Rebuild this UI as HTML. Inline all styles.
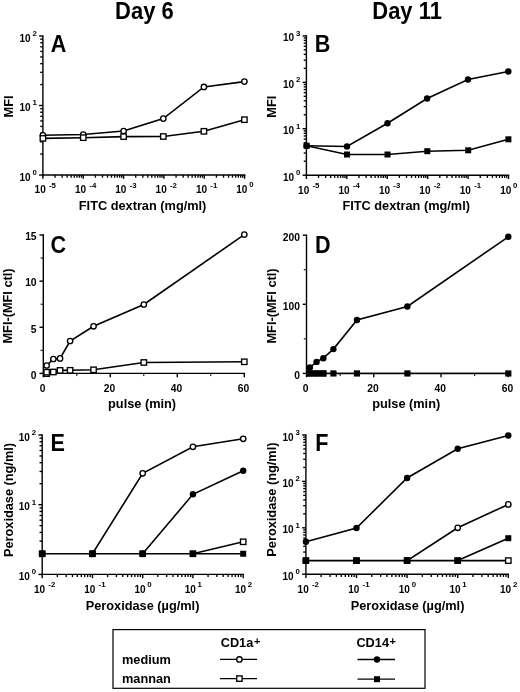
<!DOCTYPE html>
<html><head><meta charset="utf-8"><style>
html,body{margin:0;padding:0;background:#fff;width:520px;height:692px;overflow:hidden}
svg{display:block;filter:blur(0.35px)}
text{font-family:"Liberation Sans",sans-serif;font-weight:bold;fill:#000;stroke:none}
</style></head><body>
<svg width="520" height="692" viewBox="0 0 520 692">
<text transform="translate(144.4,19.2) scale(0.955,1)" font-size="23" text-anchor="middle">Day 6</text>
<text transform="translate(407.1,19.4) scale(0.955,1)" font-size="23" text-anchor="middle">Day 11</text>
<g stroke="#000">
<line x1="42.2" y1="175" x2="245.3" y2="175" stroke-width="1.4"/>
<line x1="42.9" y1="175" x2="42.9" y2="178.8" stroke-width="1.4"/>
<text x="34.6" y="193.4" font-size="10">10</text>
<text x="49" y="187.9" font-size="7.8">-5</text>
<line x1="55.04" y1="175" x2="55.04" y2="177.7" stroke-width="1.35"/>
<line x1="62.15" y1="175" x2="62.15" y2="177.7" stroke-width="1.35"/>
<line x1="67.19" y1="175" x2="67.19" y2="177.7" stroke-width="1.35"/>
<line x1="71.1" y1="175" x2="71.1" y2="177.7" stroke-width="1.35"/>
<line x1="74.29" y1="175" x2="74.29" y2="177.7" stroke-width="1.35"/>
<line x1="76.99" y1="175" x2="76.99" y2="177.7" stroke-width="1.35"/>
<line x1="79.33" y1="175" x2="79.33" y2="177.7" stroke-width="1.35"/>
<line x1="81.39" y1="175" x2="81.39" y2="177.7" stroke-width="1.35"/>
<line x1="83.24" y1="175" x2="83.24" y2="178.8" stroke-width="1.4"/>
<text x="74.94" y="193.4" font-size="10">10</text>
<text x="89.34" y="187.9" font-size="7.8">-4</text>
<line x1="95.38" y1="175" x2="95.38" y2="177.7" stroke-width="1.35"/>
<line x1="102.49" y1="175" x2="102.49" y2="177.7" stroke-width="1.35"/>
<line x1="107.53" y1="175" x2="107.53" y2="177.7" stroke-width="1.35"/>
<line x1="111.44" y1="175" x2="111.44" y2="177.7" stroke-width="1.35"/>
<line x1="114.63" y1="175" x2="114.63" y2="177.7" stroke-width="1.35"/>
<line x1="117.33" y1="175" x2="117.33" y2="177.7" stroke-width="1.35"/>
<line x1="119.67" y1="175" x2="119.67" y2="177.7" stroke-width="1.35"/>
<line x1="121.73" y1="175" x2="121.73" y2="177.7" stroke-width="1.35"/>
<line x1="123.58" y1="175" x2="123.58" y2="178.8" stroke-width="1.4"/>
<text x="115.28" y="193.4" font-size="10">10</text>
<text x="129.68" y="187.9" font-size="7.8">-3</text>
<line x1="135.72" y1="175" x2="135.72" y2="177.7" stroke-width="1.35"/>
<line x1="142.83" y1="175" x2="142.83" y2="177.7" stroke-width="1.35"/>
<line x1="147.87" y1="175" x2="147.87" y2="177.7" stroke-width="1.35"/>
<line x1="151.78" y1="175" x2="151.78" y2="177.7" stroke-width="1.35"/>
<line x1="154.97" y1="175" x2="154.97" y2="177.7" stroke-width="1.35"/>
<line x1="157.67" y1="175" x2="157.67" y2="177.7" stroke-width="1.35"/>
<line x1="160.01" y1="175" x2="160.01" y2="177.7" stroke-width="1.35"/>
<line x1="162.07" y1="175" x2="162.07" y2="177.7" stroke-width="1.35"/>
<line x1="163.92" y1="175" x2="163.92" y2="178.8" stroke-width="1.4"/>
<text x="155.62" y="193.4" font-size="10">10</text>
<text x="170.02" y="187.9" font-size="7.8">-2</text>
<line x1="176.06" y1="175" x2="176.06" y2="177.7" stroke-width="1.35"/>
<line x1="183.17" y1="175" x2="183.17" y2="177.7" stroke-width="1.35"/>
<line x1="188.21" y1="175" x2="188.21" y2="177.7" stroke-width="1.35"/>
<line x1="192.12" y1="175" x2="192.12" y2="177.7" stroke-width="1.35"/>
<line x1="195.31" y1="175" x2="195.31" y2="177.7" stroke-width="1.35"/>
<line x1="198.01" y1="175" x2="198.01" y2="177.7" stroke-width="1.35"/>
<line x1="200.35" y1="175" x2="200.35" y2="177.7" stroke-width="1.35"/>
<line x1="202.41" y1="175" x2="202.41" y2="177.7" stroke-width="1.35"/>
<line x1="204.26" y1="175" x2="204.26" y2="178.8" stroke-width="1.4"/>
<text x="195.96" y="193.4" font-size="10">10</text>
<text x="210.36" y="187.9" font-size="7.8">-1</text>
<line x1="216.4" y1="175" x2="216.4" y2="177.7" stroke-width="1.35"/>
<line x1="223.51" y1="175" x2="223.51" y2="177.7" stroke-width="1.35"/>
<line x1="228.55" y1="175" x2="228.55" y2="177.7" stroke-width="1.35"/>
<line x1="232.46" y1="175" x2="232.46" y2="177.7" stroke-width="1.35"/>
<line x1="235.65" y1="175" x2="235.65" y2="177.7" stroke-width="1.35"/>
<line x1="238.35" y1="175" x2="238.35" y2="177.7" stroke-width="1.35"/>
<line x1="240.69" y1="175" x2="240.69" y2="177.7" stroke-width="1.35"/>
<line x1="242.75" y1="175" x2="242.75" y2="177.7" stroke-width="1.35"/>
<line x1="244.6" y1="175" x2="244.6" y2="178.8" stroke-width="1.4"/>
<text x="236.3" y="193.4" font-size="10">10</text>
<text x="249.2" y="187.4" font-size="7.8">0</text>
<line x1="42.9" y1="175.7" x2="42.9" y2="35.3" stroke-width="1.4"/>
<line x1="42.9" y1="175" x2="39.1" y2="175" stroke-width="1.4"/>
<text x="30.5" y="180.5" font-size="10" text-anchor="end">10</text>
<text x="32.5" y="174.8" font-size="7.8">0</text>
<line x1="42.9" y1="154.08" x2="40.2" y2="154.08" stroke-width="1.35"/>
<line x1="42.9" y1="141.84" x2="40.2" y2="141.84" stroke-width="1.35"/>
<line x1="42.9" y1="133.16" x2="40.2" y2="133.16" stroke-width="1.35"/>
<line x1="42.9" y1="126.42" x2="40.2" y2="126.42" stroke-width="1.35"/>
<line x1="42.9" y1="120.92" x2="40.2" y2="120.92" stroke-width="1.35"/>
<line x1="42.9" y1="116.27" x2="40.2" y2="116.27" stroke-width="1.35"/>
<line x1="42.9" y1="112.24" x2="40.2" y2="112.24" stroke-width="1.35"/>
<line x1="42.9" y1="108.68" x2="40.2" y2="108.68" stroke-width="1.35"/>
<line x1="42.9" y1="105.5" x2="39.1" y2="105.5" stroke-width="1.4"/>
<text x="30.5" y="111" font-size="10" text-anchor="end">10</text>
<text x="32.5" y="105.3" font-size="7.8">1</text>
<line x1="42.9" y1="84.58" x2="40.2" y2="84.58" stroke-width="1.35"/>
<line x1="42.9" y1="72.34" x2="40.2" y2="72.34" stroke-width="1.35"/>
<line x1="42.9" y1="63.66" x2="40.2" y2="63.66" stroke-width="1.35"/>
<line x1="42.9" y1="56.92" x2="40.2" y2="56.92" stroke-width="1.35"/>
<line x1="42.9" y1="51.42" x2="40.2" y2="51.42" stroke-width="1.35"/>
<line x1="42.9" y1="46.77" x2="40.2" y2="46.77" stroke-width="1.35"/>
<line x1="42.9" y1="42.74" x2="40.2" y2="42.74" stroke-width="1.35"/>
<line x1="42.9" y1="39.18" x2="40.2" y2="39.18" stroke-width="1.35"/>
<line x1="42.9" y1="36" x2="39.1" y2="36" stroke-width="1.4"/>
<text x="30.5" y="41.5" font-size="10" text-anchor="end">10</text>
<text x="32.5" y="35.8" font-size="7.8">2</text>
</g>
<text transform="translate(50.7,51.9) scale(0.92,1)" x="0" y="0" font-size="23.5">A</text>
<text x="142.6" y="209.6" font-size="12.75" text-anchor="middle" >FITC dextran (mg/ml)</text>
<text transform="translate(12.5,106.5) rotate(-90)" font-size="12.75" text-anchor="middle">MFI</text>
<g stroke="#000">
<polyline fill="none" stroke-width="1.6" points="42.9,135.3 83.25,134.5 123.6,131 163.3,118.6 203.9,86.9 244.4,81.6"/>
<circle cx="42.9" cy="135.3" r="2.7" fill="#fff" stroke-width="1.35"/>
<circle cx="83.25" cy="134.5" r="2.7" fill="#fff" stroke-width="1.35"/>
<circle cx="123.6" cy="131" r="2.7" fill="#fff" stroke-width="1.35"/>
<circle cx="163.3" cy="118.6" r="2.7" fill="#fff" stroke-width="1.35"/>
<circle cx="203.9" cy="86.9" r="2.7" fill="#fff" stroke-width="1.35"/>
<circle cx="244.4" cy="81.6" r="2.7" fill="#fff" stroke-width="1.35"/>
<polyline fill="none" stroke-width="1.6" points="42.9,138.4 83.25,137.7 123.6,136.6 163.3,136.5 203.9,131.3 244.4,119.7"/>
<rect x="40.2" y="135.7" width="5.4" height="5.4" fill="#fff" stroke-width="1.35"/>
<rect x="80.55" y="135" width="5.4" height="5.4" fill="#fff" stroke-width="1.35"/>
<rect x="120.9" y="133.9" width="5.4" height="5.4" fill="#fff" stroke-width="1.35"/>
<rect x="160.6" y="133.8" width="5.4" height="5.4" fill="#fff" stroke-width="1.35"/>
<rect x="201.2" y="128.6" width="5.4" height="5.4" fill="#fff" stroke-width="1.35"/>
<rect x="241.7" y="117" width="5.4" height="5.4" fill="#fff" stroke-width="1.35"/>
</g>
<g stroke="#000">
<line x1="305.7" y1="175.2" x2="509.2" y2="175.2" stroke-width="1.4"/>
<line x1="306.4" y1="175.2" x2="306.4" y2="179" stroke-width="1.4"/>
<text x="298.1" y="193.6" font-size="10">10</text>
<text x="312.5" y="188.1" font-size="7.8">-5</text>
<line x1="318.57" y1="175.2" x2="318.57" y2="177.9" stroke-width="1.35"/>
<line x1="325.69" y1="175.2" x2="325.69" y2="177.9" stroke-width="1.35"/>
<line x1="330.74" y1="175.2" x2="330.74" y2="177.9" stroke-width="1.35"/>
<line x1="334.65" y1="175.2" x2="334.65" y2="177.9" stroke-width="1.35"/>
<line x1="337.85" y1="175.2" x2="337.85" y2="177.9" stroke-width="1.35"/>
<line x1="340.56" y1="175.2" x2="340.56" y2="177.9" stroke-width="1.35"/>
<line x1="342.9" y1="175.2" x2="342.9" y2="177.9" stroke-width="1.35"/>
<line x1="344.97" y1="175.2" x2="344.97" y2="177.9" stroke-width="1.35"/>
<line x1="346.82" y1="175.2" x2="346.82" y2="179" stroke-width="1.4"/>
<text x="338.52" y="193.6" font-size="10">10</text>
<text x="352.92" y="188.1" font-size="7.8">-4</text>
<line x1="358.99" y1="175.2" x2="358.99" y2="177.9" stroke-width="1.35"/>
<line x1="366.11" y1="175.2" x2="366.11" y2="177.9" stroke-width="1.35"/>
<line x1="371.16" y1="175.2" x2="371.16" y2="177.9" stroke-width="1.35"/>
<line x1="375.07" y1="175.2" x2="375.07" y2="177.9" stroke-width="1.35"/>
<line x1="378.27" y1="175.2" x2="378.27" y2="177.9" stroke-width="1.35"/>
<line x1="380.98" y1="175.2" x2="380.98" y2="177.9" stroke-width="1.35"/>
<line x1="383.32" y1="175.2" x2="383.32" y2="177.9" stroke-width="1.35"/>
<line x1="385.39" y1="175.2" x2="385.39" y2="177.9" stroke-width="1.35"/>
<line x1="387.24" y1="175.2" x2="387.24" y2="179" stroke-width="1.4"/>
<text x="378.94" y="193.6" font-size="10">10</text>
<text x="393.34" y="188.1" font-size="7.8">-3</text>
<line x1="399.41" y1="175.2" x2="399.41" y2="177.9" stroke-width="1.35"/>
<line x1="406.53" y1="175.2" x2="406.53" y2="177.9" stroke-width="1.35"/>
<line x1="411.58" y1="175.2" x2="411.58" y2="177.9" stroke-width="1.35"/>
<line x1="415.49" y1="175.2" x2="415.49" y2="177.9" stroke-width="1.35"/>
<line x1="418.69" y1="175.2" x2="418.69" y2="177.9" stroke-width="1.35"/>
<line x1="421.4" y1="175.2" x2="421.4" y2="177.9" stroke-width="1.35"/>
<line x1="423.74" y1="175.2" x2="423.74" y2="177.9" stroke-width="1.35"/>
<line x1="425.81" y1="175.2" x2="425.81" y2="177.9" stroke-width="1.35"/>
<line x1="427.66" y1="175.2" x2="427.66" y2="179" stroke-width="1.4"/>
<text x="419.36" y="193.6" font-size="10">10</text>
<text x="433.76" y="188.1" font-size="7.8">-2</text>
<line x1="439.83" y1="175.2" x2="439.83" y2="177.9" stroke-width="1.35"/>
<line x1="446.95" y1="175.2" x2="446.95" y2="177.9" stroke-width="1.35"/>
<line x1="452" y1="175.2" x2="452" y2="177.9" stroke-width="1.35"/>
<line x1="455.91" y1="175.2" x2="455.91" y2="177.9" stroke-width="1.35"/>
<line x1="459.11" y1="175.2" x2="459.11" y2="177.9" stroke-width="1.35"/>
<line x1="461.82" y1="175.2" x2="461.82" y2="177.9" stroke-width="1.35"/>
<line x1="464.16" y1="175.2" x2="464.16" y2="177.9" stroke-width="1.35"/>
<line x1="466.23" y1="175.2" x2="466.23" y2="177.9" stroke-width="1.35"/>
<line x1="468.08" y1="175.2" x2="468.08" y2="179" stroke-width="1.4"/>
<text x="459.78" y="193.6" font-size="10">10</text>
<text x="474.18" y="188.1" font-size="7.8">-1</text>
<line x1="480.25" y1="175.2" x2="480.25" y2="177.9" stroke-width="1.35"/>
<line x1="487.37" y1="175.2" x2="487.37" y2="177.9" stroke-width="1.35"/>
<line x1="492.42" y1="175.2" x2="492.42" y2="177.9" stroke-width="1.35"/>
<line x1="496.33" y1="175.2" x2="496.33" y2="177.9" stroke-width="1.35"/>
<line x1="499.53" y1="175.2" x2="499.53" y2="177.9" stroke-width="1.35"/>
<line x1="502.24" y1="175.2" x2="502.24" y2="177.9" stroke-width="1.35"/>
<line x1="504.58" y1="175.2" x2="504.58" y2="177.9" stroke-width="1.35"/>
<line x1="506.65" y1="175.2" x2="506.65" y2="177.9" stroke-width="1.35"/>
<line x1="508.5" y1="175.2" x2="508.5" y2="179" stroke-width="1.4"/>
<text x="500.2" y="193.6" font-size="10">10</text>
<text x="513.1" y="187.6" font-size="7.8">0</text>
<line x1="306.4" y1="175.9" x2="306.4" y2="35.2" stroke-width="1.4"/>
<line x1="306.4" y1="175.2" x2="302.6" y2="175.2" stroke-width="1.4"/>
<text x="294" y="180.7" font-size="10" text-anchor="end">10</text>
<text x="296" y="175" font-size="7.8">0</text>
<line x1="306.4" y1="161.22" x2="303.7" y2="161.22" stroke-width="1.35"/>
<line x1="306.4" y1="153.05" x2="303.7" y2="153.05" stroke-width="1.35"/>
<line x1="306.4" y1="147.24" x2="303.7" y2="147.24" stroke-width="1.35"/>
<line x1="306.4" y1="142.74" x2="303.7" y2="142.74" stroke-width="1.35"/>
<line x1="306.4" y1="139.07" x2="303.7" y2="139.07" stroke-width="1.35"/>
<line x1="306.4" y1="135.96" x2="303.7" y2="135.96" stroke-width="1.35"/>
<line x1="306.4" y1="133.27" x2="303.7" y2="133.27" stroke-width="1.35"/>
<line x1="306.4" y1="130.89" x2="303.7" y2="130.89" stroke-width="1.35"/>
<line x1="306.4" y1="128.77" x2="302.6" y2="128.77" stroke-width="1.4"/>
<text x="294" y="134.27" font-size="10" text-anchor="end">10</text>
<text x="296" y="128.57" font-size="7.8">1</text>
<line x1="306.4" y1="114.79" x2="303.7" y2="114.79" stroke-width="1.35"/>
<line x1="306.4" y1="106.61" x2="303.7" y2="106.61" stroke-width="1.35"/>
<line x1="306.4" y1="100.81" x2="303.7" y2="100.81" stroke-width="1.35"/>
<line x1="306.4" y1="96.31" x2="303.7" y2="96.31" stroke-width="1.35"/>
<line x1="306.4" y1="92.63" x2="303.7" y2="92.63" stroke-width="1.35"/>
<line x1="306.4" y1="89.53" x2="303.7" y2="89.53" stroke-width="1.35"/>
<line x1="306.4" y1="86.83" x2="303.7" y2="86.83" stroke-width="1.35"/>
<line x1="306.4" y1="84.46" x2="303.7" y2="84.46" stroke-width="1.35"/>
<line x1="306.4" y1="82.33" x2="302.6" y2="82.33" stroke-width="1.4"/>
<text x="294" y="87.83" font-size="10" text-anchor="end">10</text>
<text x="296" y="82.13" font-size="7.8">2</text>
<line x1="306.4" y1="68.36" x2="303.7" y2="68.36" stroke-width="1.35"/>
<line x1="306.4" y1="60.18" x2="303.7" y2="60.18" stroke-width="1.35"/>
<line x1="306.4" y1="54.38" x2="303.7" y2="54.38" stroke-width="1.35"/>
<line x1="306.4" y1="49.88" x2="303.7" y2="49.88" stroke-width="1.35"/>
<line x1="306.4" y1="46.2" x2="303.7" y2="46.2" stroke-width="1.35"/>
<line x1="306.4" y1="43.09" x2="303.7" y2="43.09" stroke-width="1.35"/>
<line x1="306.4" y1="40.4" x2="303.7" y2="40.4" stroke-width="1.35"/>
<line x1="306.4" y1="38.02" x2="303.7" y2="38.02" stroke-width="1.35"/>
<line x1="306.4" y1="35.9" x2="302.6" y2="35.9" stroke-width="1.4"/>
<text x="294" y="41.4" font-size="10" text-anchor="end">10</text>
<text x="296" y="35.7" font-size="7.8">3</text>
</g>
<text transform="translate(314.8,51.9) scale(0.92,1)" x="0" y="0" font-size="23.5">B</text>
<text x="406.2" y="209.6" font-size="12.75" text-anchor="middle" >FITC dextran (mg/ml)</text>
<text transform="translate(276,106.7) rotate(-90)" font-size="12.75" text-anchor="middle">MFI</text>
<g stroke="#000">
<polyline fill="none" stroke-width="1.6" points="306.6,145.75 347,146.5 387.5,123.25 427.1,98.5 468,79.5 508.3,71.5"/>
<circle cx="306.6" cy="145.75" r="3.2" fill="#000" stroke="none"/>
<circle cx="347" cy="146.5" r="3.2" fill="#000" stroke="none"/>
<circle cx="387.5" cy="123.25" r="3.2" fill="#000" stroke="none"/>
<circle cx="427.1" cy="98.5" r="3.2" fill="#000" stroke="none"/>
<circle cx="468" cy="79.5" r="3.2" fill="#000" stroke="none"/>
<circle cx="508.3" cy="71.5" r="3.2" fill="#000" stroke="none"/>
<polyline fill="none" stroke-width="1.6" points="306.6,145.75 347,154.5 387.5,154.5 427.3,151.2 468.2,150.3 508.4,139.3"/>
<rect x="303.6" y="142.75" width="6.0" height="6.0" fill="#000" stroke="none"/>
<rect x="344" y="151.5" width="6.0" height="6.0" fill="#000" stroke="none"/>
<rect x="384.5" y="151.5" width="6.0" height="6.0" fill="#000" stroke="none"/>
<rect x="424.3" y="148.2" width="6.0" height="6.0" fill="#000" stroke="none"/>
<rect x="465.2" y="147.3" width="6.0" height="6.0" fill="#000" stroke="none"/>
<rect x="505.4" y="136.3" width="6.0" height="6.0" fill="#000" stroke="none"/>
</g>
<g stroke="#000">
<line x1="42.6" y1="373.4" x2="245" y2="373.4" stroke-width="1.4"/>
<line x1="43.3" y1="373.4" x2="43.3" y2="377.2" stroke-width="1.4"/>
<text x="42.5" y="392.4" font-size="10.3" text-anchor="middle" >0</text>
<line x1="110.3" y1="373.4" x2="110.3" y2="377.2" stroke-width="1.4"/>
<text x="109.5" y="392.4" font-size="10.3" text-anchor="middle" >20</text>
<line x1="177.3" y1="373.4" x2="177.3" y2="377.2" stroke-width="1.4"/>
<text x="176.5" y="392.4" font-size="10.3" text-anchor="middle" >40</text>
<line x1="244.3" y1="373.4" x2="244.3" y2="377.2" stroke-width="1.4"/>
<text x="243.5" y="392.4" font-size="10.3" text-anchor="middle" >60</text>
<line x1="76.8" y1="373.4" x2="76.8" y2="376.1" stroke-width="1.0"/>
<line x1="143.8" y1="373.4" x2="143.8" y2="376.1" stroke-width="1.0"/>
<line x1="210.8" y1="373.4" x2="210.8" y2="376.1" stroke-width="1.0"/>
<line x1="43.3" y1="374.1" x2="43.3" y2="234.3" stroke-width="1.4"/>
<line x1="43.3" y1="373.4" x2="39.5" y2="373.4" stroke-width="1.4"/>
<text x="36.6" y="378.7" font-size="10.3" text-anchor="end" >0</text>
<line x1="43.3" y1="327.27" x2="39.5" y2="327.27" stroke-width="1.4"/>
<text x="36.6" y="332.57" font-size="10.3" text-anchor="end" >5</text>
<line x1="43.3" y1="281.13" x2="39.5" y2="281.13" stroke-width="1.4"/>
<text x="36.6" y="286.43" font-size="10.3" text-anchor="end" >10</text>
<line x1="43.3" y1="235" x2="39.5" y2="235" stroke-width="1.4"/>
<text x="36.6" y="240.3" font-size="10.3" text-anchor="end" >15</text>
<line x1="43.3" y1="350.33" x2="40.6" y2="350.33" stroke-width="1.0"/>
<line x1="43.3" y1="304.2" x2="40.6" y2="304.2" stroke-width="1.0"/>
<line x1="43.3" y1="258.07" x2="40.6" y2="258.07" stroke-width="1.0"/>
</g>
<text transform="translate(50.6,252.8) scale(0.92,1)" x="0" y="0" font-size="23.5">C</text>
<text x="142.1" y="408.3" font-size="12.75" text-anchor="middle" >pulse (min)</text>
<text transform="translate(11.9,306) rotate(-90)" font-size="12.75" text-anchor="middle">MFI-(MFI ctl)</text>
<g stroke="#000">
<rect x="43.95" y="370.9" width="5.4" height="5.4" fill="#fff" stroke-width="1.35"/>
<polyline fill="none" stroke-width="1.6" points="46.65,372.2 53.35,372 60.05,370.4 70.1,370.3 93.55,369.8 143.8,362.5 244.3,361.8"/>
<rect x="43.95" y="369.5" width="5.4" height="5.4" fill="#fff" stroke-width="1.35"/>
<rect x="50.65" y="369.3" width="5.4" height="5.4" fill="#fff" stroke-width="1.35"/>
<rect x="57.35" y="367.7" width="5.4" height="5.4" fill="#fff" stroke-width="1.35"/>
<rect x="67.4" y="367.6" width="5.4" height="5.4" fill="#fff" stroke-width="1.35"/>
<rect x="90.85" y="367.1" width="5.4" height="5.4" fill="#fff" stroke-width="1.35"/>
<rect x="141.1" y="359.8" width="5.4" height="5.4" fill="#fff" stroke-width="1.35"/>
<rect x="241.6" y="359.1" width="5.4" height="5.4" fill="#fff" stroke-width="1.35"/>
<polyline fill="none" stroke-width="1.6" points="46.65,365.5 53.35,359 60.05,358.4 70.1,341 93.55,326.3 143.8,304.5 244.3,234.6"/>
<circle cx="46.65" cy="365.5" r="2.7" fill="#fff" stroke-width="1.35"/>
<circle cx="53.35" cy="359" r="2.7" fill="#fff" stroke-width="1.35"/>
<circle cx="60.05" cy="358.4" r="2.7" fill="#fff" stroke-width="1.35"/>
<circle cx="70.1" cy="341" r="2.7" fill="#fff" stroke-width="1.35"/>
<circle cx="93.55" cy="326.3" r="2.7" fill="#fff" stroke-width="1.35"/>
<circle cx="143.8" cy="304.5" r="2.7" fill="#fff" stroke-width="1.35"/>
<circle cx="244.3" cy="234.6" r="2.7" fill="#fff" stroke-width="1.35"/>
</g>
<g stroke="#000">
<line x1="305.8" y1="373.4" x2="509" y2="373.4" stroke-width="1.4"/>
<line x1="306.5" y1="373.4" x2="306.5" y2="377.2" stroke-width="1.4"/>
<text x="305.7" y="392.4" font-size="10.3" text-anchor="middle" >0</text>
<line x1="373.77" y1="373.4" x2="373.77" y2="377.2" stroke-width="1.4"/>
<text x="372.97" y="392.4" font-size="10.3" text-anchor="middle" >20</text>
<line x1="441.03" y1="373.4" x2="441.03" y2="377.2" stroke-width="1.4"/>
<text x="440.23" y="392.4" font-size="10.3" text-anchor="middle" >40</text>
<line x1="508.3" y1="373.4" x2="508.3" y2="377.2" stroke-width="1.4"/>
<text x="507.5" y="392.4" font-size="10.3" text-anchor="middle" >60</text>
<line x1="340.13" y1="373.4" x2="340.13" y2="376.1" stroke-width="1.0"/>
<line x1="407.4" y1="373.4" x2="407.4" y2="376.1" stroke-width="1.0"/>
<line x1="474.67" y1="373.4" x2="474.67" y2="376.1" stroke-width="1.0"/>
<line x1="306.5" y1="374.1" x2="306.5" y2="234.5" stroke-width="1.4"/>
<line x1="306.5" y1="373.4" x2="302.7" y2="373.4" stroke-width="1.4"/>
<text x="300" y="378.7" font-size="10.3" text-anchor="end" >0</text>
<line x1="306.5" y1="304.3" x2="302.7" y2="304.3" stroke-width="1.4"/>
<text x="300" y="309.6" font-size="10.3" text-anchor="end" >100</text>
<line x1="306.5" y1="235.2" x2="302.7" y2="235.2" stroke-width="1.4"/>
<text x="300" y="240.5" font-size="10.3" text-anchor="end" >200</text>
<line x1="306.5" y1="338.85" x2="303.8" y2="338.85" stroke-width="1.0"/>
<line x1="306.5" y1="269.75" x2="303.8" y2="269.75" stroke-width="1.0"/>
</g>
<text transform="translate(314.9,252.8) scale(0.92,1)" x="0" y="0" font-size="23.5">D</text>
<text x="406.2" y="408.3" font-size="12.75" text-anchor="middle" >pulse (min)</text>
<text transform="translate(275.7,306) rotate(-90)" font-size="12.75" text-anchor="middle">MFI-(MFI ctl)</text>
<g stroke="#000">
<polyline fill="none" stroke-width="1.6" points="309.86,367.5 316.59,361.9 323.32,358.2 333.41,349.1 356.95,320 407.4,306.5 508.3,236.8"/>
<circle cx="309.86" cy="367.5" r="3.2" fill="#000" stroke="none"/>
<circle cx="316.59" cy="361.9" r="3.2" fill="#000" stroke="none"/>
<circle cx="323.32" cy="358.2" r="3.2" fill="#000" stroke="none"/>
<circle cx="333.41" cy="349.1" r="3.2" fill="#000" stroke="none"/>
<circle cx="356.95" cy="320" r="3.2" fill="#000" stroke="none"/>
<circle cx="407.4" cy="306.5" r="3.2" fill="#000" stroke="none"/>
<circle cx="508.3" cy="236.8" r="3.2" fill="#000" stroke="none"/>
<polyline fill="none" stroke-width="1.6" points="309.86,373.45 316.59,373.45 323.32,373.45 333.41,373.45 356.95,373.45 407.4,373.45 508.3,373.45"/>
<rect x="306.76" y="370.35" width="6.2" height="6.2" fill="#000" stroke="none"/>
<rect x="313.49" y="370.35" width="6.2" height="6.2" fill="#000" stroke="none"/>
<rect x="320.22" y="370.35" width="6.2" height="6.2" fill="#000" stroke="none"/>
<rect x="330.31" y="370.35" width="6.2" height="6.2" fill="#000" stroke="none"/>
<rect x="353.85" y="370.35" width="6.2" height="6.2" fill="#000" stroke="none"/>
<rect x="404.3" y="370.35" width="6.2" height="6.2" fill="#000" stroke="none"/>
<rect x="505.2" y="370.35" width="6.2" height="6.2" fill="#000" stroke="none"/>
<rect x="306.76" y="370.35" width="19.65" height="6.2" fill="#000" stroke="none"/>
</g>
<g stroke="#000">
<line x1="41.5" y1="574.4" x2="243.9" y2="574.4" stroke-width="1.4"/>
<line x1="42.2" y1="574.4" x2="42.2" y2="578.2" stroke-width="1.4"/>
<text x="33.9" y="592.8" font-size="10">10</text>
<text x="48.3" y="587.3" font-size="7.8">-2</text>
<line x1="57.33" y1="574.4" x2="57.33" y2="577.1" stroke-width="1.35"/>
<line x1="66.18" y1="574.4" x2="66.18" y2="577.1" stroke-width="1.35"/>
<line x1="72.45" y1="574.4" x2="72.45" y2="577.1" stroke-width="1.35"/>
<line x1="77.32" y1="574.4" x2="77.32" y2="577.1" stroke-width="1.35"/>
<line x1="81.3" y1="574.4" x2="81.3" y2="577.1" stroke-width="1.35"/>
<line x1="84.67" y1="574.4" x2="84.67" y2="577.1" stroke-width="1.35"/>
<line x1="87.58" y1="574.4" x2="87.58" y2="577.1" stroke-width="1.35"/>
<line x1="90.15" y1="574.4" x2="90.15" y2="577.1" stroke-width="1.35"/>
<line x1="92.45" y1="574.4" x2="92.45" y2="578.2" stroke-width="1.4"/>
<text x="84.15" y="592.8" font-size="10">10</text>
<text x="98.55" y="587.3" font-size="7.8">-1</text>
<line x1="107.58" y1="574.4" x2="107.58" y2="577.1" stroke-width="1.35"/>
<line x1="116.43" y1="574.4" x2="116.43" y2="577.1" stroke-width="1.35"/>
<line x1="122.7" y1="574.4" x2="122.7" y2="577.1" stroke-width="1.35"/>
<line x1="127.57" y1="574.4" x2="127.57" y2="577.1" stroke-width="1.35"/>
<line x1="131.55" y1="574.4" x2="131.55" y2="577.1" stroke-width="1.35"/>
<line x1="134.92" y1="574.4" x2="134.92" y2="577.1" stroke-width="1.35"/>
<line x1="137.83" y1="574.4" x2="137.83" y2="577.1" stroke-width="1.35"/>
<line x1="140.4" y1="574.4" x2="140.4" y2="577.1" stroke-width="1.35"/>
<line x1="142.7" y1="574.4" x2="142.7" y2="578.2" stroke-width="1.4"/>
<text x="134.4" y="592.8" font-size="10">10</text>
<text x="147.3" y="586.8" font-size="7.8">0</text>
<line x1="157.83" y1="574.4" x2="157.83" y2="577.1" stroke-width="1.35"/>
<line x1="166.68" y1="574.4" x2="166.68" y2="577.1" stroke-width="1.35"/>
<line x1="172.95" y1="574.4" x2="172.95" y2="577.1" stroke-width="1.35"/>
<line x1="177.82" y1="574.4" x2="177.82" y2="577.1" stroke-width="1.35"/>
<line x1="181.8" y1="574.4" x2="181.8" y2="577.1" stroke-width="1.35"/>
<line x1="185.17" y1="574.4" x2="185.17" y2="577.1" stroke-width="1.35"/>
<line x1="188.08" y1="574.4" x2="188.08" y2="577.1" stroke-width="1.35"/>
<line x1="190.65" y1="574.4" x2="190.65" y2="577.1" stroke-width="1.35"/>
<line x1="192.95" y1="574.4" x2="192.95" y2="578.2" stroke-width="1.4"/>
<text x="184.65" y="592.8" font-size="10">10</text>
<text x="197.55" y="586.8" font-size="7.8">1</text>
<line x1="208.08" y1="574.4" x2="208.08" y2="577.1" stroke-width="1.35"/>
<line x1="216.93" y1="574.4" x2="216.93" y2="577.1" stroke-width="1.35"/>
<line x1="223.2" y1="574.4" x2="223.2" y2="577.1" stroke-width="1.35"/>
<line x1="228.07" y1="574.4" x2="228.07" y2="577.1" stroke-width="1.35"/>
<line x1="232.05" y1="574.4" x2="232.05" y2="577.1" stroke-width="1.35"/>
<line x1="235.42" y1="574.4" x2="235.42" y2="577.1" stroke-width="1.35"/>
<line x1="238.33" y1="574.4" x2="238.33" y2="577.1" stroke-width="1.35"/>
<line x1="240.9" y1="574.4" x2="240.9" y2="577.1" stroke-width="1.35"/>
<line x1="243.2" y1="574.4" x2="243.2" y2="578.2" stroke-width="1.4"/>
<text x="234.9" y="592.8" font-size="10">10</text>
<text x="247.8" y="586.8" font-size="7.8">2</text>
<line x1="42.2" y1="575.1" x2="42.2" y2="434.3" stroke-width="1.4"/>
<line x1="42.2" y1="574.4" x2="38.4" y2="574.4" stroke-width="1.4"/>
<text x="29.8" y="579.9" font-size="10" text-anchor="end">10</text>
<text x="31.8" y="574.2" font-size="7.8">0</text>
<line x1="42.2" y1="553.42" x2="39.5" y2="553.42" stroke-width="1.35"/>
<line x1="42.2" y1="541.14" x2="39.5" y2="541.14" stroke-width="1.35"/>
<line x1="42.2" y1="532.44" x2="39.5" y2="532.44" stroke-width="1.35"/>
<line x1="42.2" y1="525.68" x2="39.5" y2="525.68" stroke-width="1.35"/>
<line x1="42.2" y1="520.16" x2="39.5" y2="520.16" stroke-width="1.35"/>
<line x1="42.2" y1="515.5" x2="39.5" y2="515.5" stroke-width="1.35"/>
<line x1="42.2" y1="511.45" x2="39.5" y2="511.45" stroke-width="1.35"/>
<line x1="42.2" y1="507.89" x2="39.5" y2="507.89" stroke-width="1.35"/>
<line x1="42.2" y1="504.7" x2="38.4" y2="504.7" stroke-width="1.4"/>
<text x="29.8" y="510.2" font-size="10" text-anchor="end">10</text>
<text x="31.8" y="504.5" font-size="7.8">1</text>
<line x1="42.2" y1="483.72" x2="39.5" y2="483.72" stroke-width="1.35"/>
<line x1="42.2" y1="471.44" x2="39.5" y2="471.44" stroke-width="1.35"/>
<line x1="42.2" y1="462.74" x2="39.5" y2="462.74" stroke-width="1.35"/>
<line x1="42.2" y1="455.98" x2="39.5" y2="455.98" stroke-width="1.35"/>
<line x1="42.2" y1="450.46" x2="39.5" y2="450.46" stroke-width="1.35"/>
<line x1="42.2" y1="445.8" x2="39.5" y2="445.8" stroke-width="1.35"/>
<line x1="42.2" y1="441.75" x2="39.5" y2="441.75" stroke-width="1.35"/>
<line x1="42.2" y1="438.19" x2="39.5" y2="438.19" stroke-width="1.35"/>
<line x1="42.2" y1="435" x2="38.4" y2="435" stroke-width="1.4"/>
<text x="29.8" y="440.5" font-size="10" text-anchor="end">10</text>
<text x="31.8" y="434.8" font-size="7.8">2</text>
</g>
<text transform="translate(50.6,450.8) scale(0.92,1)" x="0" y="0" font-size="23.5">E</text>
<text x="142.6" y="610" font-size="12.75" text-anchor="middle" >Peroxidase (&#181;g/ml)</text>
<text transform="translate(12.8,500) rotate(-90)" font-size="12.75" text-anchor="middle">Peroxidase (ng/ml)</text>
<g stroke="#000">
<polyline fill="none" stroke-width="1.6" points="42.2,553.75 92.45,553.75 142.7,473.3 192.95,446.8 243.2,438.8"/>
<circle cx="42.2" cy="553.75" r="2.7" fill="#fff" stroke-width="1.35"/>
<circle cx="92.45" cy="553.75" r="2.7" fill="#fff" stroke-width="1.35"/>
<circle cx="142.7" cy="473.3" r="2.7" fill="#fff" stroke-width="1.35"/>
<circle cx="192.95" cy="446.8" r="2.7" fill="#fff" stroke-width="1.35"/>
<circle cx="243.2" cy="438.8" r="2.7" fill="#fff" stroke-width="1.35"/>
<polyline fill="none" stroke-width="1.6" points="92.45,553.75 142.7,553.75 192.95,494.3 243.2,470.8"/>
<circle cx="42.2" cy="553.75" r="3.2" fill="#000" stroke="none"/>
<circle cx="92.45" cy="553.75" r="3.2" fill="#000" stroke="none"/>
<circle cx="142.7" cy="553.75" r="3.2" fill="#000" stroke="none"/>
<circle cx="192.95" cy="494.3" r="3.2" fill="#000" stroke="none"/>
<circle cx="243.2" cy="470.8" r="3.2" fill="#000" stroke="none"/>
<polyline fill="none" stroke-width="1.6" points="142.7,553.75 192.95,553.75 243.2,541.8"/>
<rect x="39.5" y="551.05" width="5.4" height="5.4" fill="#fff" stroke-width="1.35"/>
<rect x="89.75" y="551.05" width="5.4" height="5.4" fill="#fff" stroke-width="1.35"/>
<rect x="140" y="551.05" width="5.4" height="5.4" fill="#fff" stroke-width="1.35"/>
<rect x="190.25" y="551.05" width="5.4" height="5.4" fill="#fff" stroke-width="1.35"/>
<rect x="240.5" y="539.1" width="5.4" height="5.4" fill="#fff" stroke-width="1.35"/>
<polyline fill="none" stroke-width="1.6" points="192.95,553.75 243.2,553.75"/>
<rect x="39.2" y="550.75" width="6.0" height="6.0" fill="#000" stroke="none"/>
<rect x="89.45" y="550.75" width="6.0" height="6.0" fill="#000" stroke="none"/>
<rect x="139.7" y="550.75" width="6.0" height="6.0" fill="#000" stroke="none"/>
<rect x="189.95" y="550.75" width="6.0" height="6.0" fill="#000" stroke="none"/>
<rect x="240.2" y="550.75" width="6.0" height="6.0" fill="#000" stroke="none"/>
</g>
<g stroke="#000">
<line x1="305.2" y1="574.2" x2="509" y2="574.2" stroke-width="1.4"/>
<line x1="305.9" y1="574.2" x2="305.9" y2="578" stroke-width="1.4"/>
<text x="297.6" y="592.6" font-size="10">10</text>
<text x="312" y="587.1" font-size="7.8">-2</text>
<line x1="321.13" y1="574.2" x2="321.13" y2="576.9" stroke-width="1.35"/>
<line x1="330.04" y1="574.2" x2="330.04" y2="576.9" stroke-width="1.35"/>
<line x1="336.36" y1="574.2" x2="336.36" y2="576.9" stroke-width="1.35"/>
<line x1="341.27" y1="574.2" x2="341.27" y2="576.9" stroke-width="1.35"/>
<line x1="345.27" y1="574.2" x2="345.27" y2="576.9" stroke-width="1.35"/>
<line x1="348.66" y1="574.2" x2="348.66" y2="576.9" stroke-width="1.35"/>
<line x1="351.6" y1="574.2" x2="351.6" y2="576.9" stroke-width="1.35"/>
<line x1="354.18" y1="574.2" x2="354.18" y2="576.9" stroke-width="1.35"/>
<line x1="356.5" y1="574.2" x2="356.5" y2="578" stroke-width="1.4"/>
<text x="348.2" y="592.6" font-size="10">10</text>
<text x="362.6" y="587.1" font-size="7.8">-1</text>
<line x1="371.73" y1="574.2" x2="371.73" y2="576.9" stroke-width="1.35"/>
<line x1="380.64" y1="574.2" x2="380.64" y2="576.9" stroke-width="1.35"/>
<line x1="386.96" y1="574.2" x2="386.96" y2="576.9" stroke-width="1.35"/>
<line x1="391.87" y1="574.2" x2="391.87" y2="576.9" stroke-width="1.35"/>
<line x1="395.87" y1="574.2" x2="395.87" y2="576.9" stroke-width="1.35"/>
<line x1="399.26" y1="574.2" x2="399.26" y2="576.9" stroke-width="1.35"/>
<line x1="402.2" y1="574.2" x2="402.2" y2="576.9" stroke-width="1.35"/>
<line x1="404.78" y1="574.2" x2="404.78" y2="576.9" stroke-width="1.35"/>
<line x1="407.1" y1="574.2" x2="407.1" y2="578" stroke-width="1.4"/>
<text x="398.8" y="592.6" font-size="10">10</text>
<text x="411.7" y="586.6" font-size="7.8">0</text>
<line x1="422.33" y1="574.2" x2="422.33" y2="576.9" stroke-width="1.35"/>
<line x1="431.24" y1="574.2" x2="431.24" y2="576.9" stroke-width="1.35"/>
<line x1="437.56" y1="574.2" x2="437.56" y2="576.9" stroke-width="1.35"/>
<line x1="442.47" y1="574.2" x2="442.47" y2="576.9" stroke-width="1.35"/>
<line x1="446.47" y1="574.2" x2="446.47" y2="576.9" stroke-width="1.35"/>
<line x1="449.86" y1="574.2" x2="449.86" y2="576.9" stroke-width="1.35"/>
<line x1="452.8" y1="574.2" x2="452.8" y2="576.9" stroke-width="1.35"/>
<line x1="455.38" y1="574.2" x2="455.38" y2="576.9" stroke-width="1.35"/>
<line x1="457.7" y1="574.2" x2="457.7" y2="578" stroke-width="1.4"/>
<text x="449.4" y="592.6" font-size="10">10</text>
<text x="462.3" y="586.6" font-size="7.8">1</text>
<line x1="472.93" y1="574.2" x2="472.93" y2="576.9" stroke-width="1.35"/>
<line x1="481.84" y1="574.2" x2="481.84" y2="576.9" stroke-width="1.35"/>
<line x1="488.16" y1="574.2" x2="488.16" y2="576.9" stroke-width="1.35"/>
<line x1="493.07" y1="574.2" x2="493.07" y2="576.9" stroke-width="1.35"/>
<line x1="497.07" y1="574.2" x2="497.07" y2="576.9" stroke-width="1.35"/>
<line x1="500.46" y1="574.2" x2="500.46" y2="576.9" stroke-width="1.35"/>
<line x1="503.4" y1="574.2" x2="503.4" y2="576.9" stroke-width="1.35"/>
<line x1="505.98" y1="574.2" x2="505.98" y2="576.9" stroke-width="1.35"/>
<line x1="508.3" y1="574.2" x2="508.3" y2="578" stroke-width="1.4"/>
<text x="500" y="592.6" font-size="10">10</text>
<text x="512.9" y="586.6" font-size="7.8">2</text>
<line x1="305.9" y1="574.9" x2="305.9" y2="434.3" stroke-width="1.4"/>
<line x1="305.9" y1="574.2" x2="302.1" y2="574.2" stroke-width="1.4"/>
<text x="293.5" y="579.7" font-size="10" text-anchor="end">10</text>
<text x="295.5" y="574" font-size="7.8">0</text>
<line x1="305.9" y1="560.23" x2="303.2" y2="560.23" stroke-width="1.35"/>
<line x1="305.9" y1="552.06" x2="303.2" y2="552.06" stroke-width="1.35"/>
<line x1="305.9" y1="546.26" x2="303.2" y2="546.26" stroke-width="1.35"/>
<line x1="305.9" y1="541.77" x2="303.2" y2="541.77" stroke-width="1.35"/>
<line x1="305.9" y1="538.09" x2="303.2" y2="538.09" stroke-width="1.35"/>
<line x1="305.9" y1="534.99" x2="303.2" y2="534.99" stroke-width="1.35"/>
<line x1="305.9" y1="532.3" x2="303.2" y2="532.3" stroke-width="1.35"/>
<line x1="305.9" y1="529.92" x2="303.2" y2="529.92" stroke-width="1.35"/>
<line x1="305.9" y1="527.8" x2="302.1" y2="527.8" stroke-width="1.4"/>
<text x="293.5" y="533.3" font-size="10" text-anchor="end">10</text>
<text x="295.5" y="527.6" font-size="7.8">1</text>
<line x1="305.9" y1="513.83" x2="303.2" y2="513.83" stroke-width="1.35"/>
<line x1="305.9" y1="505.66" x2="303.2" y2="505.66" stroke-width="1.35"/>
<line x1="305.9" y1="499.86" x2="303.2" y2="499.86" stroke-width="1.35"/>
<line x1="305.9" y1="495.37" x2="303.2" y2="495.37" stroke-width="1.35"/>
<line x1="305.9" y1="491.69" x2="303.2" y2="491.69" stroke-width="1.35"/>
<line x1="305.9" y1="488.59" x2="303.2" y2="488.59" stroke-width="1.35"/>
<line x1="305.9" y1="485.9" x2="303.2" y2="485.9" stroke-width="1.35"/>
<line x1="305.9" y1="483.52" x2="303.2" y2="483.52" stroke-width="1.35"/>
<line x1="305.9" y1="481.4" x2="302.1" y2="481.4" stroke-width="1.4"/>
<text x="293.5" y="486.9" font-size="10" text-anchor="end">10</text>
<text x="295.5" y="481.2" font-size="7.8">2</text>
<line x1="305.9" y1="467.43" x2="303.2" y2="467.43" stroke-width="1.35"/>
<line x1="305.9" y1="459.26" x2="303.2" y2="459.26" stroke-width="1.35"/>
<line x1="305.9" y1="453.46" x2="303.2" y2="453.46" stroke-width="1.35"/>
<line x1="305.9" y1="448.97" x2="303.2" y2="448.97" stroke-width="1.35"/>
<line x1="305.9" y1="445.29" x2="303.2" y2="445.29" stroke-width="1.35"/>
<line x1="305.9" y1="442.19" x2="303.2" y2="442.19" stroke-width="1.35"/>
<line x1="305.9" y1="439.5" x2="303.2" y2="439.5" stroke-width="1.35"/>
<line x1="305.9" y1="437.12" x2="303.2" y2="437.12" stroke-width="1.35"/>
<line x1="305.9" y1="435" x2="302.1" y2="435" stroke-width="1.4"/>
<text x="293.5" y="440.5" font-size="10" text-anchor="end">10</text>
<text x="295.5" y="434.8" font-size="7.8">3</text>
</g>
<text transform="translate(315.3,450.8) scale(0.92,1)" x="0" y="0" font-size="23.5">F</text>
<text x="407.6" y="610" font-size="12.75" text-anchor="middle" >Peroxidase (&#181;g/ml)</text>
<text transform="translate(276,499.6) rotate(-90)" font-size="12.75" text-anchor="middle">Peroxidase (ng/ml)</text>
<g stroke="#000">
<polyline fill="none" stroke-width="1.6" points="305.9,560.6 356.5,560.6 407.1,560.6 457.7,527.8 508.3,504.4"/>
<circle cx="305.9" cy="560.6" r="2.7" fill="#fff" stroke-width="1.35"/>
<circle cx="356.5" cy="560.6" r="2.7" fill="#fff" stroke-width="1.35"/>
<circle cx="407.1" cy="560.6" r="2.7" fill="#fff" stroke-width="1.35"/>
<circle cx="457.7" cy="527.8" r="2.7" fill="#fff" stroke-width="1.35"/>
<circle cx="508.3" cy="504.4" r="2.7" fill="#fff" stroke-width="1.35"/>
<polyline fill="none" stroke-width="1.6" points="305.9,541.8 356.5,528 407.1,478 457.7,448.8 508.3,435.5"/>
<circle cx="305.9" cy="541.8" r="3.2" fill="#000" stroke="none"/>
<circle cx="356.5" cy="528" r="3.2" fill="#000" stroke="none"/>
<circle cx="407.1" cy="478" r="3.2" fill="#000" stroke="none"/>
<circle cx="457.7" cy="448.8" r="3.2" fill="#000" stroke="none"/>
<circle cx="508.3" cy="435.5" r="3.2" fill="#000" stroke="none"/>
<polyline fill="none" stroke-width="1.6" points="407.1,560.6 457.7,560.6 508.3,560.6"/>
<rect x="303.2" y="557.9" width="5.4" height="5.4" fill="#fff" stroke-width="1.35"/>
<rect x="353.8" y="557.9" width="5.4" height="5.4" fill="#fff" stroke-width="1.35"/>
<rect x="404.4" y="557.9" width="5.4" height="5.4" fill="#fff" stroke-width="1.35"/>
<rect x="455" y="557.9" width="5.4" height="5.4" fill="#fff" stroke-width="1.35"/>
<rect x="505.6" y="557.9" width="5.4" height="5.4" fill="#fff" stroke-width="1.35"/>
<polyline fill="none" stroke-width="1.6" points="457.7,560.6 508.3,538.2"/>
<rect x="302.9" y="557.6" width="6.0" height="6.0" fill="#000" stroke="none"/>
<rect x="353.5" y="557.6" width="6.0" height="6.0" fill="#000" stroke="none"/>
<rect x="404.1" y="557.6" width="6.0" height="6.0" fill="#000" stroke="none"/>
<rect x="454.7" y="557.6" width="6.0" height="6.0" fill="#000" stroke="none"/>
<rect x="505.3" y="535.2" width="6.0" height="6.0" fill="#000" stroke="none"/>
</g>
<rect x="113" y="629.6" width="312" height="58.7" fill="none" stroke="#000" stroke-width="1.2"/>
<text x="220.7" y="647.2" font-size="12.75">CD1a</text>
<text x="372.7" y="647.2" font-size="12.75" text-anchor="middle">CD14</text>
<text x="257.3" y="645.3" font-size="11" text-anchor="middle">+</text>
<text x="392.6" y="645.0" font-size="11" text-anchor="middle">+</text>
<text x="122" y="663.8" font-size="12.75" text-anchor="start" >medium</text>
<text x="122" y="682.5" font-size="12.75" text-anchor="start" >mannan</text>
<g stroke="#000">
<line x1="220" y1="659.4" x2="257" y2="659.4" stroke-width="1.3"/>
<circle cx="239.4" cy="659.4" r="2.7" fill="#fff" stroke-width="1.35"/>
<line x1="220" y1="678.6" x2="257" y2="678.6" stroke-width="1.3"/>
<rect x="236.7" y="675.9" width="5.4" height="5.4" fill="#fff" stroke-width="1.35"/>
<line x1="357.5" y1="659.5" x2="395" y2="659.5" stroke-width="1.3"/>
<circle cx="377" cy="659.5" r="3.2" fill="#000" stroke="none"/>
<line x1="357.5" y1="679.2" x2="395" y2="679.2" stroke-width="1.3"/>
<rect x="374" y="676.2" width="6.0" height="6.0" fill="#000" stroke="none"/>
</g>
</svg>
</body></html>
